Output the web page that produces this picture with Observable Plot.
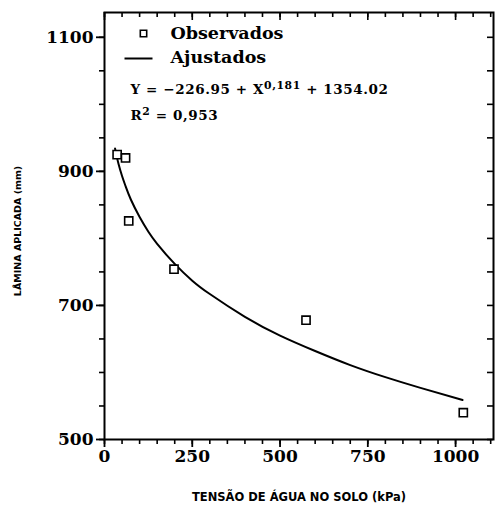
<!DOCTYPE html>
<html><head><meta charset="utf-8">
<script src="https://cdn.jsdelivr.net/npm/d3@7"></script>
<script src="https://cdn.jsdelivr.net/npm/@observablehq/plot@0.6"></script>
<style>body{margin:0;background:#fff}</style>
</head><body><div id="chart"></div>
<script>
// Observed points
const obsX = [36, 60, 69, 198, 574, 1022];
const obsY = [925, 920, 826, 754, 678, 540];
// Fitted curve
const fitX = [30, 35, 40, 50, 60, 75, 100, 125, 150, 200, 250, 300, 400, 500, 600, 700, 800, 900, 1020];
const fitY = [934, 922, 911, 893, 878, 858, 832, 810, 792, 762, 737, 717, 683, 655, 632, 611, 593, 577, 559];
const xTicks = [0, 250, 500, 750, 1000];
const yTicks = [500, 700, 900, 1100];
const xMinor = d3.range(0, 1101, 50);
const yMinor = d3.range(500, 1137, 50);
const legendLabels = ["Observados", "Ajustados"];
const eqParts = ["Y = \u2212226.95 + X", "0,181", " + 1354.02"];
const r2Parts = ["R", "2", " = 0,953"];
const xLabel = "TENSÃO DE ÁGUA NO SOLO (kPa)";
const yLabel = "LÂMINA APLICADA (mm)";

const obs = obsX.map((x, i) => ({x, y: obsY[i]}));
const fit = fitX.map((x, i) => ({x, y: fitY[i]}));

const W = 495, H = 505, mL = 104, mR = 2, mT = 12, mB = 66;
const pw = W - mL - mR, ph = H - mT - mB;
const serif = "DejaVu Serif";
const sans = "DejaVu Sans";
const legendLine = {draw(ctx) { ctx.moveTo(-14, 0); ctx.lineTo(14, 0); }};

const plot = Plot.plot({
  width: W, height: H,
  marginLeft: mL, marginRight: mR, marginTop: mT, marginBottom: mB,
  style: {fontFamily: serif, background: "#fff", color: "#000"},
  x: {domain: [0, 1108]},
  y: {domain: [500, 1137]},
  marks: [
    Plot.axisY(yMinor, {tickSize: 5, text: null, strokeWidth: 1.6, label: null}),
    Plot.axisX(xMinor, {tickSize: 5, text: null, strokeWidth: 1.6, label: null}),
    Plot.axisX(xTicks, {tickSize: 8, tickPadding: 2, tickFormat: "d", fontSize: 17, fontWeight: "bold", fontFamily: serif, strokeWidth: 1.8, label: null}),
    Plot.axisY(yTicks, {tickSize: 8, tickPadding: 3, tickFormat: "d", fontSize: 17, fontWeight: "bold", fontFamily: serif, strokeWidth: 1.8, label: null}),
    Plot.tickY(yMinor, {y: d => d, insetLeft: pw - 6, strokeWidth: 1.6}),
    Plot.tickX(xMinor, {x: d => d, insetBottom: ph - 5, strokeWidth: 1.6}),
    Plot.tickX(xTicks, {x: d => d, insetBottom: ph - 8, strokeWidth: 1.6}),
    Plot.frame({strokeWidth: 2}),
    Plot.line(fit, {x: "x", y: "y", curve: "natural", strokeWidth: 2}),
    Plot.dot(obs, {x: "x", y: "y", symbol: "square", r: 4.6, fill: "#fff", stroke: "#000", strokeWidth: 1.6}),
    // legend
    Plot.dot([0], {frameAnchor: "top-left", dx: 39, dy: 21, symbol: "square", r: 3.6, fill: "#fff", stroke: "#000", strokeWidth: 1.6}),
    Plot.dot([0], {frameAnchor: "top-left", dx: 34, dy: 46, symbol: legendLine, fill: "none", stroke: "#000", strokeWidth: 2}),
    Plot.text([legendLabels[0]], {frameAnchor: "top-left", text: d => d, dx: 66, dy: 21, textAnchor: "start", lineAnchor: "middle", fontSize: 17.5, fontWeight: "bold"}),
    Plot.text([legendLabels[1]], {frameAnchor: "top-left", text: d => d, dx: 66, dy: 45, textAnchor: "start", lineAnchor: "middle", fontSize: 17.5, fontWeight: "bold"}),
    Plot.text([eqParts.join("^")], {frameAnchor: "top-left", text: d => d, dx: 26, dy: 77, textAnchor: "start", lineAnchor: "middle", fontSize: 13.5, fontWeight: "bold"}),
    Plot.text([r2Parts.join("^")], {frameAnchor: "top-left", text: d => d, dx: 26, dy: 103, textAnchor: "start", lineAnchor: "middle", fontSize: 13.5, fontWeight: "bold"}),
    // axis titles
    Plot.text([xLabel], {frameAnchor: "bottom", text: d => d, dy: 58, textAnchor: "middle", lineAnchor: "middle", fontSize: 11.5, fontWeight: "bold", fontFamily: sans}),
    Plot.text([yLabel], {frameAnchor: "left", text: d => d, dx: -87, dy: 5, rotate: -90, textAnchor: "middle", lineAnchor: "middle", fontSize: 9.5, fontWeight: "bold", fontFamily: sans})
  ]
});

// superscripts
d3.select(plot).selectAll("text").each(function() {
  const t = this.textContent;
  if (!t.includes("^") || this.children.length > 1) return;
  const parts = t.split("^");
  const el = d3.select(this);
  el.text(null).attr("letter-spacing", "0.6px");
  el.append("tspan").text(parts[0]);
  el.append("tspan").attr("dy", "-0.45em").attr("font-size", "0.8em").text(parts[1]);
  el.append("tspan").attr("dy", "0.36em").text(parts[2]);
});

document.getElementById("chart").appendChild(plot);
</script>
</body></html>
